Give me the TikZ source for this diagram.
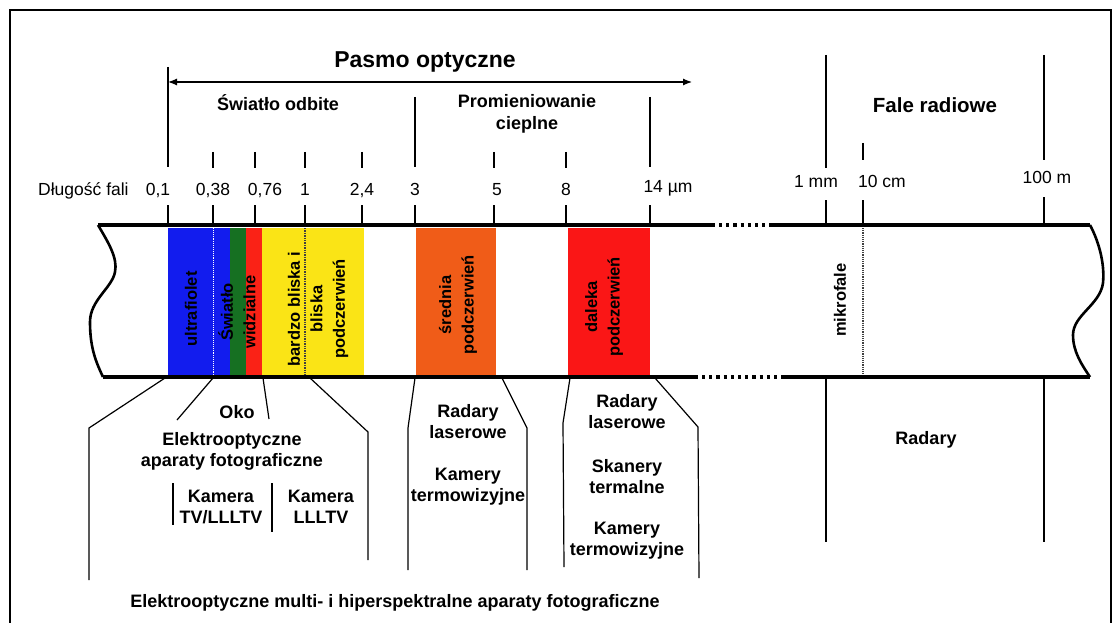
\documentclass[tikz,border=0pt]{standalone}
\usepackage{fontspec}
\setmainfont{Liberation Sans}
\usetikzlibrary{arrows.meta,positioning}
\definecolor{uvblue}{RGB}{18,28,238}
\definecolor{visgreen}{RGB}{22,112,34}
\definecolor{visred}{RGB}{250,34,22}
\definecolor{niryellow}{RGB}{250,228,22}
\definecolor{mirorange}{RGB}{240,92,24}
\definecolor{firred}{RGB}{250,22,22}
\tikzset{
  wlbl/.style={font=\fontsize{17.5}{20}\selectfont, inner sep=0pt, anchor=base},
  hdr/.style={font=\bfseries\fontsize{18}{22}\selectfont, align=center, inner sep=0pt},
  grp/.style={font=\bfseries\fontsize{18}{21}\selectfont, align=center, inner sep=0pt},
  bandtxt/.style={font=\bfseries\fontsize{16.5}{22.5}\selectfont, align=center,
                  rotate=90, inner sep=0pt},
  thin line/.style={line width=1.2pt},
  bandline/.style={line width=3.2pt},
  dotline/.style={line width=3.2pt, dash pattern=on 3.2pt off 4pt},
}
\begin{document}
\begin{tikzpicture}[x=1pt, y=-1pt]
  \useasboundingbox (0,0) rectangle (1114,623);
  % frame
  \draw[line width=2pt] (10,623) -- (10,10) -- (1111,10) -- (1111,623);

  % headings
  \node[font=\bfseries\fontsize{23}{26}\selectfont, inner sep=0pt] (pasmo) at (425,62) {Pasmo optyczne};
  \coordinate (arl) at (168,82);
  \coordinate (arr) at (692,82);
  \draw[thin line, {Latex[length=9pt,width=7pt]}-{Latex[length=9pt,width=7pt]}] (arl) -- (arr);
  \node[hdr] (odbite) at (278,103) {Światło odbite};
  \node[hdr] (cieplne) at (527,114) {Promieniowanie\\ cieplne};
  \node[font=\bfseries\fontsize{20.5}{24}\selectfont, inner sep=0pt] (radiowe) at (935,105) {Fale radiowe};

  % wavelength scale
  \node[wlbl, anchor=base west] (dl) at (38,195) {Długość fali};
  \foreach \n/\x/\yb/\t in {a/158/195/{0,1}, b/213/195/{0,38}, c/265/195/{0,76}, d/305/195/1,
      e/362/195/{2,4}, f/415/195/3, g/497/195/5, h/566/195/8, i/668/193/{14 µm},
      j/816/187/{1 mm}, k/882/187/{10 cm}, l/1047/183/{100 m}}
    \node[wlbl] (w\n) at (\x,\yb) {\t};
  % long dividers
  \draw[thin line] (168,67) -- (168,167) (168,205) -- (168,225);
  \draw[thin line] (415,97) -- (415,167) (415,205) -- (415,225);
  \draw[thin line] (650,97) -- (650,167) (650,205) -- (650,225);
  \draw[thin line] (826,55) -- (826,168) (826,200) -- (826,225);
  \draw[thin line] (1044,55) -- (1044,160) (1044,197) -- (1044,225);
  % short ticks
  \foreach \x in {213,255,305,362,494,566}
    \draw[thin line] (\x,152) -- (\x,168) (\x,205) -- (\x,225);
  \draw[thin line] (863,143) -- (863,160) (863,200) -- (863,225);

  % spectral bands
  \fill[uvblue] (168,228) rectangle (230,375);
  \fill[visgreen] (230,228) rectangle (246,375);
  \fill[visred] (246,228) rectangle (262,375);
  \fill[niryellow] (262,228) rectangle (364,375);
  \fill[mirorange] (416,228) rectangle (496,375);
  \fill[firred] (568,228) rectangle (650,375);
  \draw[white, line width=0.9pt, densely dotted] (213,228) -- (213,375);
  \draw[black!75, line width=1.4pt, densely dotted] (305,228) -- (305,375);
  \draw[black!75, line width=1.2pt, densely dotted] (863,228) -- (863,375);

  \node[bandtxt] (uv) at (191,309) {ultrafiolet};
  \node[bandtxt] (vis) at (237,312) {Światło\\ widzialne};
  \node[bandtxt] (nir) at (318,309) {bardzo bliska i\\ bliska\\ podczerwień};
  \node[bandtxt] (mir) at (458,305) {średnia\\ podczerwień};
  \node[bandtxt] (fir) at (604,307) {daleka\\ podczerwień};
  \node[bandtxt] (mw) at (840,300) {mikrofale};

  % band outline
  \draw[bandline] (98,225) -- (715,225);
  \draw[dotline] (719,225) -- (772,225);
  \draw[bandline] (772,225) -- (1090,225);
  \draw[bandline] (103,377) -- (698,377);
  \draw[dotline] (702,377) -- (782,377);
  \draw[bandline] (782,377) -- (1090,377);
  \draw[line width=2.6pt] (98,225) .. controls (108,242) and (118,258) .. (115,272)
    .. controls (112,288) and (90,300) .. (90,322)
    .. controls (90,348) and (96,362) .. (103,377);
  \draw[line width=2.6pt] (1090,225) .. controls (1098,240) and (1105,262) .. (1103,283)
    .. controls (1100,305) and (1073,315) .. (1073,335)
    .. controls (1073,352) and (1082,365) .. (1090,377);

  % applications: reflected light
  \coordinate (g1a) at (165,378); \coordinate (g1b) at (89,428); \coordinate (g1c) at (89,580);
  \coordinate (g1d) at (310,378); \coordinate (g1e) at (368,432); \coordinate (g1f) at (368,560);
  \coordinate (eoa) at (213,378); \coordinate (eob) at (177,420);
  \coordinate (okoa) at (263,378); \coordinate (okob) at (269,419);
  \draw[thin line] (g1a) -- (g1b) -- (g1c);
  \draw[thin line] (g1d) -- (g1e) -- (g1f);
  \draw[thin line] (eoa) -- (eob);
  \draw[thin line] (okoa) -- (okob);
  \node[grp] (oko) at (237,412) {Oko};
  \node[grp] (eoap) at (232,451) {Elektrooptyczne\\ aparaty fotograficzne};
  \node[grp] (kamtv) at (221,507) {Kamera\\ TV/LLLTV};
  \node[grp] (kamll) at (321,507) {Kamera\\ LLLTV};
  \coordinate (bar1a) at (173,483); \coordinate (bar1b) at (173,525);
  \coordinate (bar2a) at (272,483); \coordinate (bar2b) at (272,532);
  \draw[thin line] (bar1a) -- (bar1b);
  \draw[thin line] (bar2a) -- (bar2b);
  \node[grp] (multi) at (395,603) {Elektrooptyczne multi- i hiperspektralne aparaty fotograficzne};

  % applications: mid infrared
  \coordinate (g2a) at (415,378); \coordinate (g2b) at (408,428); \coordinate (g2c) at (408,570);
  \coordinate (g2d) at (502,378); \coordinate (g2e) at (527,428); \coordinate (g2f) at (527,570);
  \draw[thin line] (g2a) -- (g2b) -- (g2c);
  \draw[thin line] (g2d) -- (g2e) -- (g2f);
  \node[grp] (rl1) at (468,422) {Radary\\ laserowe};
  \node[grp] (kt1) at (468,487) {Kamery\\ termowizyjne};

  % applications: far infrared
  \coordinate (g3a) at (570,378); \coordinate (g3b) at (563,423); \coordinate (g3c) at (564,567);
  \coordinate (g3d) at (655,378); \coordinate (g3e) at (698,427); \coordinate (g3f) at (699,578);
  \draw[thin line] (g3a) -- (g3b) -- (g3c);
  \draw[thin line] (g3d) -- (g3e) -- (g3f);
  \node[grp] (rl2) at (627,412) {Radary\\ laserowe};
  \node[grp] (sk) at (627,477) {Skanery\\ termalne};
  \node[grp] (kt2) at (627,541) {Kamery\\ termowizyjne};

  % applications: radio
  \coordinate (g4a) at (826,378); \coordinate (g4b) at (826,542);
  \coordinate (g4c) at (1044,378); \coordinate (g4d) at (1044,542);
  \draw[thin line] (g4a) -- (g4b);
  \draw[thin line] (g4c) -- (g4d);
  \node[grp] (rad) at (926,440) {Radary};
\end{tikzpicture}
\end{document}
